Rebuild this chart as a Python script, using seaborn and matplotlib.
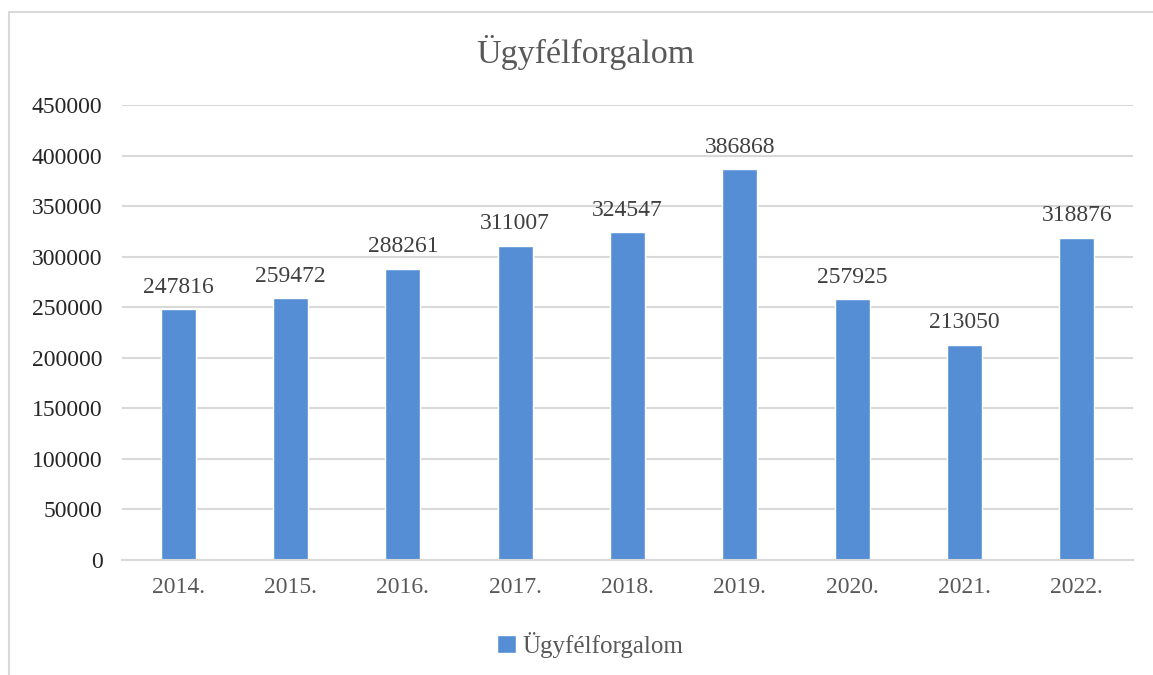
import matplotlib
matplotlib.use("Agg")
import matplotlib.pyplot as plt
import seaborn as sns
import pandas as pd
from matplotlib.patches import Rectangle

years = ["2014.", "2015.", "2016.", "2017.", "2018.", "2019.", "2020.", "2021.", "2022."]
values = [247816, 259472, 288261, 311007, 324547, 386868, 257925, 213050, 318876]
series_name = "Ügyfélforgalom"
title = "Ügyfélforgalom"
yticks = [0, 50000, 100000, 150000, 200000, 250000, 300000, 350000, 400000, 450000]

df = pd.DataFrame({"year": years, "value": values, "series": series_name})

sns.set_theme(style="white")
plt.rcParams["font.family"] = ["Liberation Serif", "DejaVu Serif"]

fig = plt.figure(figsize=(11.53, 6.75), dpi=100)
ax = fig.add_axes([122/1153, 1 - 560/675, (1133-122)/1153, (560-105)/675])

bar_color = "#558ED5"
sns.barplot(data=df, x="year", y="value", hue="series", palette=[bar_color],
            width=0.31, ax=ax, legend=True, saturation=1)

ax.set_ylim(0, 450000)
ax.set_xlim(-0.5, len(years) - 0.5)
ax.set_yticks(yticks)
ax.set_yticklabels([str(v) for v in yticks])
ax.yaxis.grid(True, color="#d9d9d9", linewidth=1.5)
ax.set_axisbelow(True)
for s in ["top", "right", "left"]:
    ax.spines[s].set_visible(False)
ax.spines["bottom"].set_color("#d9d9d9")
ax.spines["bottom"].set_linewidth(1.5)
ax.tick_params(axis="both", length=0)
ax.tick_params(axis="y", labelsize=17, labelcolor="#262626", pad=14)
ax.tick_params(axis="x", labelsize=17, labelcolor="#595959", pad=12)
ax.set_xlabel("")
ax.set_ylabel("")

for c in ax.containers:
    ax.bar_label(c, labels=[str(v) for v in values], padding=8, fontsize=17, color="#404040")

fig.text(585/1153, 1 - 52/675, title, ha="center", va="center", fontsize=24.5, color="#595959")

leg = ax.legend(loc="center", bbox_to_anchor=(590/1153, 1 - 645/675), bbox_transform=fig.transFigure,
                frameon=False, fontsize=18, handlelength=0.75, handleheight=0.75, handletextpad=0.25)
for t in leg.get_texts():
    t.set_color("#595959")

fig.patches.append(Rectangle((9/1153, -0.05), 1.2, 1 - 12/675 + 0.05,
                             transform=fig.transFigure, fill=False, edgecolor="#d9d9d9", linewidth=1.5))

fig.savefig("out.png", dpi=100, facecolor="white")
